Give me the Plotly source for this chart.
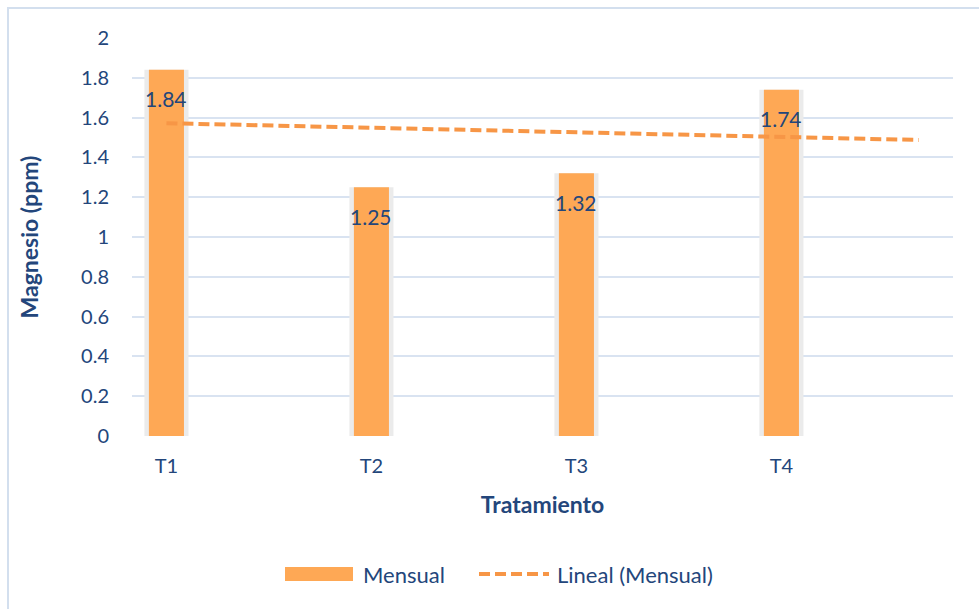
import numpy as np
import plotly.graph_objects as go

categories = ["T1", "T2", "T3", "T4"]
values = [1.84, 1.25, 1.32, 1.74]
y_ticks = [0, 0.2, 0.4, 0.6, 0.8, 1, 1.2, 1.4, 1.6, 1.8, 2]
y_tick_labels = ["0", "0.2", "0.4", "0.6", "0.8", "1", "1.2", "1.4", "1.6", "1.8", "2"]

series_name = "Mensual"
trend_name = "Lineal (Mensual)"
x_title = "Tratamiento"
y_title = "Magnesio (ppm)"

# positions (style)
xpos = np.arange(1, len(categories) + 1)
trend_forward = 0.67

TEXT = "#23467B"
GRID = "#D9E3F1"
ORANGE = "#FEA855"
TREND = "#F79646"
FONT = "Lato"

W, H = 979, 609
L, R, T, B = 132, 26, 38, 173
PW, PH = W - L - R, H - T - B


def px_x(p):
    return (p - L) / PW


def px_y(p):
    return (H - B - p) / PH


# linear trend line from the data
slope, intercept = np.polyfit(xpos, values, 1)
tx = np.array([xpos[0], xpos[-1] + trend_forward])
ty = slope * tx + intercept

fig = go.Figure()
# soft shadow behind bars
fig.add_trace(go.Bar(
    x=xpos, y=values, width=0.215,
    marker=dict(color="#EBEBEB", line=dict(width=0)),
    showlegend=False, hoverinfo="skip",
))
fig.add_trace(go.Bar(
    x=xpos, y=values, width=0.171, name=series_name,
    marker=dict(color=ORANGE, line=dict(width=0)),
    showlegend=False,
))
fig.add_trace(go.Scatter(
    x=tx, y=ty, mode="lines", name=trend_name,
    line=dict(color=TREND, width=4, dash="11px,5px"),
    showlegend=False,
))

annotations = []
for xv, v in zip(xpos, values):
    annotations.append(dict(
        x=xv, y=v, xref="x", yref="y", text=f"{v:.2f}", showarrow=False,
        yshift=-29, font=dict(family=FONT, size=21, color=TEXT),
    ))

# legend (drawn manually to match the wide swatches)
leg_y = 574
annotations.append(dict(x=px_x(361), y=px_y(leg_y), xref="paper", yref="paper",
                        text=series_name, showarrow=False, xanchor="left",
                        yanchor="middle", font=dict(family=FONT, size=22, color=TEXT)))
annotations.append(dict(x=px_x(555), y=px_y(leg_y), xref="paper", yref="paper",
                        text=trend_name, showarrow=False, xanchor="left",
                        yanchor="middle", font=dict(family=FONT, size=22, color=TEXT)))

shapes = [
    dict(type="rect", xref="paper", yref="paper",
         x0=px_x(8), x1=px_x(1100), y0=px_y(700), y1=px_y(8),
         line=dict(color="#D3DFEE", width=2), layer="below"),
    dict(type="rect", xref="paper", yref="paper",
         x0=px_x(285), x1=px_x(353), y0=px_y(leg_y + 7), y1=px_y(leg_y - 7),
         fillcolor=ORANGE, line=dict(width=0)),
    dict(type="line", xref="paper", yref="paper",
         x0=px_x(479), x1=px_x(549), y0=px_y(leg_y), y1=px_y(leg_y),
         line=dict(color=TREND, width=4, dash="11px,5px")),
]

fig.update_layout(
    width=W, height=H,
    margin=dict(l=L, r=R, t=T, b=B),
    paper_bgcolor="white", plot_bgcolor="white",
    barmode="overlay",
    font=dict(family=FONT, size=20, color=TEXT),
    showlegend=False,
    xaxis=dict(
        range=[0.832, 4.837], tickmode="array", tickvals=list(xpos),
        ticktext=categories, showgrid=False, zeroline=False,
        showline=False, ticks="", ticklabelstandoff=16,
        title=dict(text=f"<b>{x_title}</b>", standoff=20,
                   font=dict(family=FONT, size=23, color=TEXT)),
    ),
    yaxis=dict(
        range=[0, 2], tickmode="array", tickvals=y_ticks, ticktext=y_tick_labels,
        showgrid=True, gridcolor=GRID, gridwidth=2, zeroline=False,
        showline=False, ticks="", ticklabelstandoff=22,
        title=dict(text=f"<b>{y_title}</b>", standoff=36,
                   font=dict(family=FONT, size=23, color=TEXT)),
    ),
    annotations=annotations,
    shapes=shapes,
)

fig.write_html("out.html")
